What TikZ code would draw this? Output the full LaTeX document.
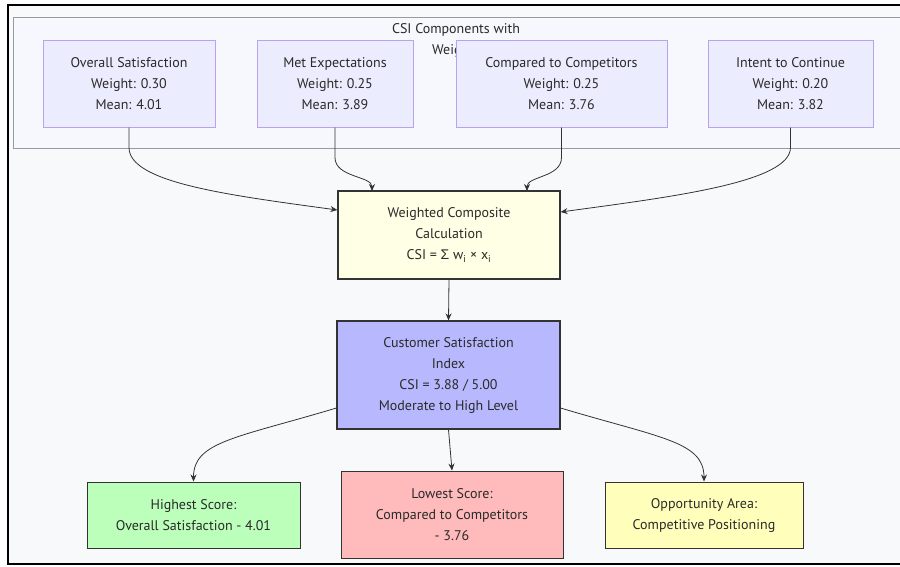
\documentclass[tikz,border=0pt]{standalone}
\usepackage{fontspec}
\setmainfont{PT Sans}
\newfontfamily\symfont{Liberation Sans}
\usetikzlibrary{arrows.meta}
\definecolor{bgc}{HTML}{F8F9FA}
\definecolor{clfill}{HTML}{F7F7FE}
\definecolor{clline}{HTML}{9A9A9A}
\definecolor{compfill}{HTML}{ECECFF}
\definecolor{compline}{HTML}{B9A3EB}
\definecolor{calcfill}{HTML}{FFFFE6}
\definecolor{csifill}{HTML}{B8B8FF}
\definecolor{hifill}{HTML}{BBFFBB}
\definecolor{lofill}{HTML}{FFBBBB}
\definecolor{opfill}{HTML}{FFFFBB}
\definecolor{edge}{HTML}{333333}
\definecolor{txt}{HTML}{2A2A2A}
\begin{document}
\begin{tikzpicture}[x=1pt,y=-1pt,
  every node/.style={font=\fontsize{14}{21}\selectfont, text=txt, align=center, inner sep=0pt},
  comp/.style={draw=compline, fill=compfill, line width=1pt, minimum height=87pt},
  dark/.style={draw=edge, line width=1.2pt},
  conn/.style={draw=edge, line width=0.8pt, -{Stealth[length=7pt,width=6pt]}}
]
\useasboundingbox (0,0) rectangle (900,566);
\fill[white] (0,0) rectangle (900,566);
\fill[bgc] (8,5) rectangle (900,564);
\draw[black, line width=2pt] (901,5) -- (8,5) -- (8,564) -- (901,564);
% cluster
\draw[clline, fill=clfill, line width=1pt] (13,17) rectangle (905,148);
\node (cltitle) at (456,40) {CSI Components with\\Weights};
% components
\node[comp, minimum width=172pt] (c1) at (129,83.5) {Overall Satisfaction\\Weight: 0.30\\Mean: 4.01};
\node[comp, minimum width=156pt] (c2) at (335,83.5) {Met Expectations\\Weight: 0.25\\Mean: 3.89};
\node[comp, minimum width=211pt] (c3) at (561.5,83.5) {Compared to Competitors\\Weight: 0.25\\Mean: 3.76};
\node[comp, minimum width=165pt] (c4) at (790.5,83.5) {Intent to Continue\\Weight: 0.20\\Mean: 3.82};
% calc
\node[dark, fill=calcfill, minimum width=222pt, minimum height=88pt] (calc) at (449,235) {Weighted Composite\\Calculation\\CSI = {\symfont Σ} w\textsubscript{i} × x\textsubscript{i}};
% CSI
\node[dark, fill=csifill, minimum width=223pt, minimum height=108pt] (csi) at (448.5,375) {Customer Satisfaction\\Index\\CSI = 3.88 / 5.00\\Moderate to High Level};
% outcomes
\node[draw=edge, line width=1pt, fill=hifill, minimum width=213pt, minimum height=66pt] (hi) at (193.5,515) {Highest Score:\\Overall Satisfaction - 4.01};
\node[draw=edge, line width=1pt, fill=lofill, minimum width=222pt, minimum height=87pt] (lo) at (452,514.5) {Lowest Score:\\Compared to Competitors\\- 3.76};
\node[draw=edge, line width=1pt, fill=opfill, minimum width=198pt, minimum height=66pt] (op) at (704,515) {Opportunity Area:\\Competitive Positioning};
% edges
\draw[conn] (c1.south) -- ++(0,20) .. controls +(0,35) and +(-110,-15) .. (calc.west |- 0,210);
\draw[conn] (c2.south) -- ++(0,30) .. controls +(0,20) and +(0,-15) .. (372,191);
\draw[conn] (c3.south) -- ++(0,30) .. controls +(0,20) and +(0,-15) .. (527,191);
\draw[conn] (c4.south) -- ++(0,20) .. controls +(0,35) and +(110,-15) .. (calc.east |- 0,212);
\draw[conn] (calc.south) -- (csi.north);
\draw[conn] (csi.west |- 0,408) .. controls +(-100,30) and +(0,-40) .. (hi.north);
\draw[conn] (csi.south) -- (lo.north);
\draw[conn] (csi.east |- 0,408) .. controls +(100,30) and +(0,-40) .. (op.north);
\end{tikzpicture}
\end{document}
